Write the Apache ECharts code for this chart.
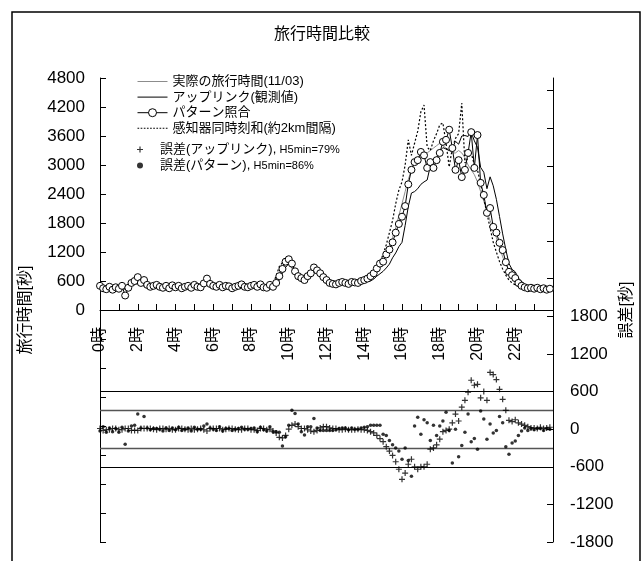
<!DOCTYPE html>
<html>
<head>
<meta charset="utf-8">
<script src="https://cdn.jsdelivr.net/npm/echarts@6/dist/echarts.min.js"></script>
<style>
  html, body { margin: 0; padding: 0; background: #fff; }
  #chart { width: 644px; height: 561px; }
</style>
</head>
<body>
<div id="chart"></div>
<script>
// 10-minute samples over one day, 0:00 .. 23:50
const STEP_HOURS = 1 / 6;

const hourTicks = [0, 1, 2, 3, 4, 5, 6, 7, 8, 9, 10, 11, 12, 13, 14, 15, 16, 17, 18, 19, 20, 21, 22, 23, 24];
const hourLabels = [0, 2, 4, 6, 8, 10, 12, 14, 16, 18, 20, 22];
const travelTickLabels = [0, 600, 1200, 1800, 2400, 3000, 3600, 4200, 4800];
const errorTicks = [-1800, -1200, -600, 0, 600, 1200, 1800, 2400, 3000, 3600, 4200, 4800, 5400];
const errorTickLabels = [-1800, -1200, -600, 0, 600, 1200, 1800];
const errorBands = [-600, -300, 300, 600];

// 実際の旅行時間 [s]
const actualTime = [
  480, 460, 450, 470, 440, 430,
  470, 480, 420, 440, 520, 560,
  560, 520, 500, 480, 470, 480,
  500, 470, 460, 480, 470, 490,
  480, 470, 460, 470, 480, 470,
  490, 480, 470, 500, 560, 520,
  500, 490, 480, 500, 490, 480,
  470, 480, 490, 500, 480, 470,
  490, 500, 520, 500, 480, 490,
  480, 520, 600, 750, 900, 980,
  960, 860, 740, 680, 650, 640,
  660, 720, 800, 840, 780, 700,
  640, 580, 560, 540, 550, 560,
  540, 550, 560, 570, 560, 580,
  590, 610, 640, 700, 800, 900,
  1000, 1150, 1300, 1500, 1700, 1950,
  2200, 2450, 2700, 2900, 3050, 3150,
  3200, 3250, 3250, 3300, 3350, 3400,
  3450, 3400, 3350, 3300, 3250, 3250,
  3300, 3250, 3150, 3000, 2900, 2800,
  2650, 2450, 2250, 2050, 1850, 1700,
  1500, 1300, 1100, 950, 820, 720,
  640, 560, 510, 480, 460, 450,
  450, 440, 430, 430, 420, 420
];

// アップリンク(観測値) [s]
const uplinkTime = [
  470, 450, 440, 460, 450, 440,
  460, 470, 430, 450, 500, 540,
  540, 530, 510, 490, 480, 480,
  490, 480, 470, 480, 480, 480,
  470, 480, 470, 470, 470, 480,
  480, 480, 480, 490, 530, 530,
  510, 500, 490, 490, 490, 490,
  480, 480, 480, 490, 490, 480,
  480, 490, 500, 510, 490, 480,
  480, 490, 540, 620, 760, 880,
  960, 920, 820, 720, 660, 650,
  650, 690, 760, 820, 800, 740,
  680, 600, 570, 550, 540, 550,
  540, 540, 550, 560, 560, 570,
  580, 590, 600, 640, 700, 750,
  800, 870, 950, 1080, 1180, 1310,
  1400, 1750, 2140, 2420, 2450, 2510,
  2600, 2650, 2690, 2980, 3050, 3150,
  3290, 3360, 3330, 3300, 3350, 3490,
  3430, 3600, 3610, 3590, 3680, 3500,
  3365, 2950, 2850, 2510, 2755, 2570,
  2290, 1935, 1575, 1250, 960, 840,
  790, 660, 590, 540, 500, 470,
  470, 450, 460, 440, 440, 450
];

// パターン照合 [s]
const patternTime = [
  500, 450, 430, 480, 420, 470,
  440, 500, 300, 460, 560, 600,
  680, 560, 620, 520, 480, 500,
  520, 480, 460, 500, 450, 510,
  470, 500, 450, 480, 500, 460,
  520, 480, 470, 550, 650, 540,
  500, 480, 520, 470, 500, 490,
  450, 480, 500, 530, 480, 470,
  500, 520, 480, 530, 470, 460,
  520, 480, 560, 700, 850, 1000,
  1050, 960, 800, 700, 660, 620,
  700, 760, 880, 820, 760, 680,
  620, 560, 540, 530, 560, 580,
  560, 540, 580, 570, 560, 600,
  620, 650, 700, 760, 860, 960,
  1000, 1150, 1250, 1400, 1600, 1780,
  1930, 2150, 2600, 2900, 3060, 3100,
  3270, 3200, 2940, 3060, 2940, 3100,
  3250, 3480, 3520, 3730, 3350, 2900,
  3100, 2750, 2900, 3250, 3680, 2940,
  3620, 2630, 2380, 2010, 2110, 1720,
  1600, 1390, 1240, 990, 790, 720,
  660, 560, 500, 470, 450, 460,
  440, 460, 430, 450, 420, 440
];

// 感知器同時刻和(約2km間隔) [s]
const sensorTime = [
  470, 450, 440, 470, 440, 440,
  460, 480, 420, 450, 520, 560,
  560, 530, 500, 480, 470, 480,
  490, 470, 460, 480, 470, 480,
  470, 470, 460, 470, 470, 470,
  480, 480, 470, 500, 560, 520,
  500, 490, 480, 490, 490, 480,
  470, 480, 490, 500, 480, 470,
  490, 500, 520, 500, 480, 490,
  500, 560, 700, 900, 980, 1000,
  980, 880, 760, 690, 650, 640,
  670, 740, 820, 840, 770, 700,
  640, 580, 560, 540, 550, 560,
  550, 550, 560, 570, 570, 590,
  600, 630, 680, 760, 880, 1000,
  1150, 1350, 1600, 1850, 2200, 2480,
  2650, 3000, 3520, 3200, 3450, 3700,
  4100, 4240, 3370, 3300, 3500, 3650,
  3830, 3870, 3450, 2960, 3350, 3550,
  3650, 4280, 3040, 3150, 3250, 3000,
  2900, 2600, 2300, 2000, 1700, 1400,
  1200, 1000, 850, 720, 620, 560,
  520, 490, 470, 460, 450, 440,
  440, 430, 430, 420, 420, 420
];

// 誤差(アップリンク) [s]
const uplinkError = [
  10, -20, -10, -10, 10, 10,
  -10, -10, 10, 10, -20, -20,
  -20, 10, 10, 10, 10, 0,
  -10, 10, 10, 0, 10, -10,
  -10, 10, 10, 0, -10, 10,
  -10, 0, 10, -10, -30, 10,
  10, 10, 10, -10, 0, 10,
  10, 0, -10, -10, 10, 10,
  -10, -10, -20, 10, 10, -10,
  0, -30, -60, -130, -140, -100,
  0, 60, 80, 40, 10, 10,
  -10, -30, -40, -20, 20, 40,
  40, 20, 10, 10, -10, -10,
  0, -10, -10, -10, 0, -10,
  -10, -20, -40, -60, -100, -150,
  -200, -280, -350, -420, -520, -640,
  -800, -700, -560, -480, -600, -640,
  -600, -600, -560, -320, -300, -250,
  -160, -40, -20, 0, 100, 240,
  130, 350, 460, 590, 780, 700,
  715, 500, 600, 460, 905, 870,
  790, 635, 475, 300, 140, 120,
  150, 100, 80, 60, 40, 20,
  20, 10, 30, 10, 20, 30
];

// 誤差(パターン) [s]
const patternError = [
  -30, 40, -50, 20, -40, 10,
  -50, 30, -240, -30, 50, 60,
  240, 20, 200, 20, -10, 10,
  10, 0, -30, 20, -20, 20,
  -10, 30, -20, 0, 20, -30,
  30, 0, 0, 50, 80, 20,
  0, -20, 40, -30, 10, 10,
  -20, 0, 10, 30, 0, 0,
  10, 20, -40, 30, -10, -30,
  40, -40, -40, -50, -270, -120,
  60, 300, 250, 80, -40, -95,
  40, 40, 170, 20, -20, -20,
  -20, -20, -20, -10, 10, 20,
  20, -10, 20, 0, 0, 20,
  30, 40, 60, 60, 60, 60,
  -80, -100, -180, -250, -300, -350,
  -480, -300, -500, -750, 50, 190,
  -80, 150, 100, -180, 60, -100,
  50, 130, 270, -20, -540, 0,
  -440, -260, -50, 240, -200, -150,
  -320, 290, 160, -160, 80, -60,
  -20, 200, 100, -280, -400, -220,
  -190, -100, -30, 20, -20, 10,
  -10, 10, 10, -20, 10, 0
];

const FONT = '"Liberation Sans", Arial, "Noto Sans CJK JP", sans-serif';
const PLUS = 'path://M4,0h2v4h4v2h-4v4h-2v-4h-4v-2h4z';
// Legend keys: a solid bar and a dotted row of short dashes, both 30 units wide
const SOLID_KEY = 'path://M0,0h30v1h-30z';
const DOTTED_KEY = 'path://' + Array.from({ length: 10 }, (_, i) => 'M' + (i * 3) + ',0h1.6v1h-1.6z').join('');

// Plot area in pixels; the time axis sits on the travel-time zero line,
// which is the vertical middle of the plot because that axis runs -4800..4800.
const GRID = { left: 100, right: 91, top: 78, bottom: 19 };
const PLOT_HEIGHT = 561 - GRID.top - GRID.bottom;

const toPoints = arr => arr.map((v, i) => [i * STEP_HOURS, v]);

const chart = echarts.init(document.getElementById('chart'), null, { renderer: 'canvas' });

chart.setOption({
  animation: false,
  backgroundColor: '#fff',
  textStyle: { fontFamily: FONT, color: '#000' },
  title: {
    text: '旅行時間比較',
    left: 'center',
    top: 22,
    textStyle: { fontFamily: FONT, fontSize: 16, fontWeight: 'normal', color: '#000' }
  },
  graphic: [{
    type: 'rect',
    silent: true,
    shape: { x: 12, y: 12, width: 628, height: 570 },
    style: { fill: 'none', stroke: '#000', lineWidth: 1.5 }
  }],
  legend: [{
    orient: 'vertical',
    left: 132,
    top: 70,
    itemWidth: 30,
    itemHeight: 10,
    itemGap: 2.6,
    selectedMode: false,
    data: [
      { name: '実際の旅行時間(11/03)', icon: SOLID_KEY },
      { name: 'アップリンク(観測値)', icon: SOLID_KEY },
      { name: 'パターン照合', lineStyle: { width: 1 }, itemStyle: { borderWidth: 1 } },
      { name: '感知器同時刻和(約2km間隔)', icon: DOTTED_KEY }
    ],
    textStyle: { fontFamily: FONT, fontSize: 13, color: '#000' }
  }, {
    orient: 'vertical',
    left: 132,
    top: 138,
    itemWidth: 30,
    itemHeight: 6,
    itemGap: 3,
    selectedMode: false,
    data: ['誤差(アップリンク), H5min=79%', '誤差(パターン), H5min=86%'],
    formatter: name => {
      const p = name.split(', ');
      return '{a|' + p[0] + ',} {b|' + p[1] + '}';
    },
    textStyle: {
      fontFamily: FONT, color: '#000',
      rich: {
        a: { fontFamily: FONT, fontSize: 13, color: '#000' },
        b: { fontFamily: FONT, fontSize: 11, color: '#000' }
      }
    }
  }],
  grid: Object.assign({ containLabel: false, outerBoundsMode: 'none' }, GRID),
  xAxis: {
    type: 'value',
    min: 0,
    max: 24,
    interval: 1,
    position: 'bottom',
    offset: -PLOT_HEIGHT / 2,
    axisLine: { show: true, onZero: false, lineStyle: { color: '#000', width: 1 } },
    axisTick: { show: true, inside: true, length: 6, lineStyle: { color: '#000' }, customValues: hourTicks },
    axisLabel: {
      customValues: hourLabels,
      rotate: 90,
      margin: 17,
      fontSize: 16,
      color: '#000',
      fontFamily: FONT,
      formatter: v => v + '時'
    },
    splitLine: { show: false }
  },
  yAxis: [{
    type: 'value',
    position: 'left',
    min: -4800,
    max: 4800,
    interval: 600,
    name: '旅行時間[秒]',
    nameLocation: 'middle',
    nameGap: 66,
    nameRotate: 90,
    nameTextStyle: { fontFamily: FONT, fontSize: 16, color: '#000' },
    axisLine: { show: true, onZero: false, lineStyle: { color: '#000', width: 1 } },
    axisTick: { show: true, inside: true, length: 6, lineStyle: { color: '#000' } },
    axisLabel: {
      customValues: travelTickLabels, margin: 15, fontSize: 17, color: '#000', fontFamily: FONT,
      formatter: v => String(v)
    },
    splitLine: { show: false }
  }, {
    type: 'value',
    position: 'right',
    min: -1800,
    max: 5600,
    name: '誤差[秒]',
    nameLocation: 'middle',
    nameGap: 66,
    nameMoveOverlap: false,
    nameRotate: 90,
    nameTextStyle: { fontFamily: FONT, fontSize: 16, color: '#000' },
    axisLine: { show: true, onZero: false, lineStyle: { color: '#000', width: 1 } },
    axisTick: { show: true, inside: true, length: 6, lineStyle: { color: '#000' }, customValues: errorTicks },
    axisLabel: {
      customValues: errorTickLabels, margin: 17, fontSize: 17, color: '#000', fontFamily: FONT,
      formatter: v => String(v)
    },
    splitLine: { show: false }
  }],
  series: [{
    name: '実際の旅行時間(11/03)',
    type: 'line',
    yAxisIndex: 0,
    data: toPoints(actualTime),
    symbol: 'none',
    lineStyle: { color: '#8c8c8c', width: 1 },
    itemStyle: { color: '#8c8c8c' },
    z: 2
  }, {
    name: 'アップリンク(観測値)',
    type: 'line',
    yAxisIndex: 0,
    data: toPoints(uplinkTime),
    symbol: 'none',
    lineStyle: { color: '#000', width: 1 },
    itemStyle: { color: '#000' },
    z: 3
  }, {
    name: '感知器同時刻和(約2km間隔)',
    type: 'line',
    yAxisIndex: 0,
    data: toPoints(sensorTime),
    symbol: 'none',
    lineStyle: { color: '#000', width: 1.2, type: [2, 2] },
    itemStyle: { color: '#000' },
    z: 4
  }, {
    name: 'パターン照合',
    type: 'line',
    yAxisIndex: 0,
    data: toPoints(patternTime),
    symbol: 'circle',
    symbolSize: 7,
    showAllSymbol: true,
    lineStyle: { color: '#000', width: 1 },
    itemStyle: { color: '#fff', borderColor: '#000', borderWidth: 1 },
    z: 5
  }, {
    name: '誤差(アップリンク), H5min=79%',
    type: 'scatter',
    yAxisIndex: 1,
    data: toPoints(uplinkError),
    symbol: PLUS,
    symbolSize: 6,
    itemStyle: { color: '#000' },
    markLine: {
      silent: true,
      symbol: 'none',
      label: { show: false },
      data: errorBands.map(v => ({
        yAxis: v,
        lineStyle: { color: Math.abs(v) === 600 ? '#000' : '#555', width: Math.abs(v) === 600 ? 1 : 1.3, type: 'solid' }
      }))
    },
    z: 6
  }, {
    name: '誤差(パターン), H5min=86%',
    type: 'scatter',
    yAxisIndex: 1,
    data: toPoints(patternError),
    symbol: 'circle',
    symbolSize: 3.5,
    itemStyle: { color: '#000' },
    z: 7
  }]
});
</script>
</body>
</html>
